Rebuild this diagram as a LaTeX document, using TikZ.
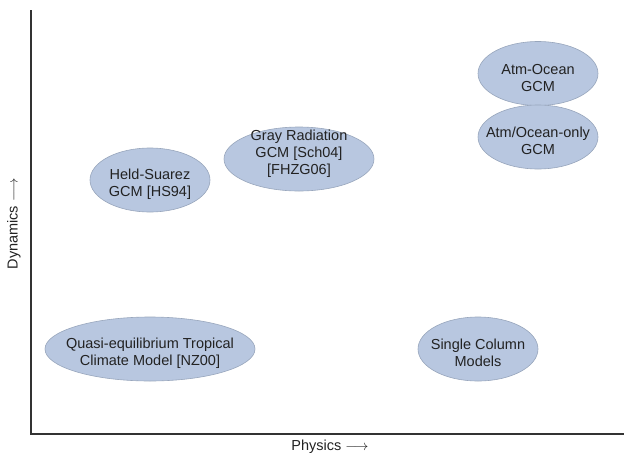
\documentclass[tikz,border=0pt]{standalone}
\usepackage{fontspec}
\setmainfont{Liberation Sans}

\definecolor{blobfill}{HTML}{B8C7E0}
\definecolor{blobedge}{HTML}{98A6BC}
\definecolor{axisgray}{HTML}{333333}
\definecolor{textgray}{HTML}{222222}

\tikzset{
  blob/.style={fill=blobfill, draw=blobedge, line width=0.6pt},
  modeltext/.style={align=center, text=textgray, inner sep=0pt,
    font=\fontsize{14.5}{17}\selectfont},
  axis/.style={draw=axisgray, line width=1.5pt},
}

% #1 name, #2 ellipse centre, #3 x radius, #4 text centre, #5 text
\newcommand{\model}[5]{%
  \path[blob] #2 ellipse [x radius=#3, y radius=32];
  \node[modeltext] (#1) at #4 {#5};
}

\begin{document}
\begin{tikzpicture}[x=1pt, y=-1pt]
  \useasboundingbox (0,0) rectangle (624,456);

  % axes
  \coordinate (ytop) at (31,10);
  \coordinate (origin) at (31,434);
  \coordinate (xend) at (624,434);
  \draw[axis] (ytop) -- (origin) -- (xend);

  \node[modeltext, rotate=90] (dynamics) at (14,224) {Dynamics $\longrightarrow$};
  \node[modeltext] (physics) at (330,447) {Physics $\longrightarrow$};

  % the models
  \model{heldsuarez}{(150,180)}{60}{(150,184.5)}{Held-Suarez\\GCM [HS94]}
  \model{grayrad}{(299,159)}{75}{(299,154)}{Gray Radiation\\GCM [Sch04]\\{}[FHZG06]}
  \model{atmocean}{(538,73.5)}{60}{(538,78)}{Atm-Ocean\\GCM}
  \model{atmonly}{(538,137)}{60}{(538,141)}{Atm/Ocean-only\\GCM}
  \model{qtcm}{(150,349)}{105}{(150,353)}{Quasi-equilibrium Tropical\\Climate Model [NZ00]}
  \model{scm}{(478,349)}{60}{(478,353)}{Single Column\\Models}
\end{tikzpicture}
\end{document}
